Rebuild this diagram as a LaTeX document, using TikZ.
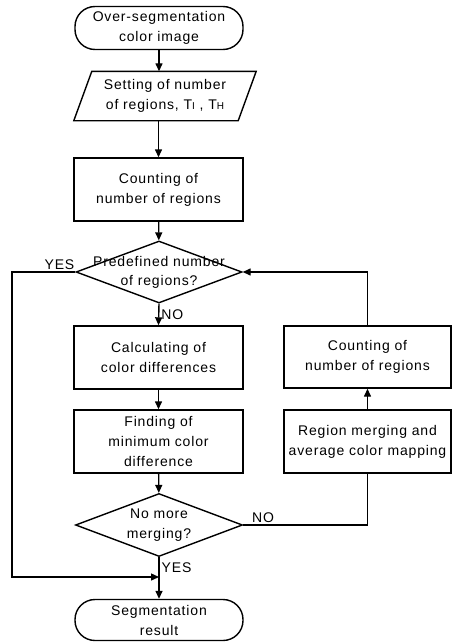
\documentclass[tikz,border=0pt]{standalone}
\usepackage{fontspec}
\setmainfont{Liberation Sans}[LetterSpace=6]
\usetikzlibrary{shapes.geometric,arrows.meta}
\begin{document}
\begin{tikzpicture}[x=1pt,y=-1pt]
\tikzset{
 base/.style={draw, line width=1.4pt, font=\fontsize{14}{20}\selectfont, align=center, inner sep=0pt},
 term/.style={base, rounded corners=20pt, minimum width=168pt, minimum height=43pt},
 proc/.style={base, minimum width=169pt, minimum height=63pt},
 decision/.style={base, diamond, minimum width=166pt, minimum height=62pt},
 conn/.style={line width=1.4pt, -{Triangle[length=8pt,width=7pt]}},
 plain/.style={line width=1.4pt},
 lab/.style={font=\fontsize{14}{16}\selectfont, inner sep=2pt}
}
\useasboundingbox (0,0) rectangle (452,642);
\node[term] (start) at (159,28) {Over-segmentation\\color image};
\node[base, draw=none, minimum width=163pt, minimum height=48pt] (set) at (165,96)
  {Setting of number\\of regions, T{\fontsize{10}{10}\selectfont I} , T{\fontsize{10}{10}\selectfont H}};
\draw[plain] ([xshift=9pt]set.north west) -- ([xshift=9pt]set.north east)
  -- ([xshift=-9pt]set.south east) -- ([xshift=-9pt]set.south west) -- cycle;
\node[proc] (cnt) at (158.5,189.5) {Counting of\\number of regions};
\node[decision, label={[font=\fontsize{14}{19}\selectfont, align=center]center:Predefined number\\of regions?}] (d1) at (159,272) {};
\node[proc] (calc) at (158.5,357.5) {Calculating of\\color differences};
\node[proc] (find) at (158.5,441.5) {Finding of\\minimum color\\difference};
\node[decision, minimum width=167pt, minimum height=63pt, label={[font=\fontsize{14}{20}\selectfont, align=center]center:No more\\merging?}] (d2) at (159,525) {};
\node[term, minimum height=41pt] (end) at (159,620) {Segmentation\\result};
\node[proc, minimum width=167pt, minimum height=62pt] (ra) at (367.5,357) {Counting of\\number of regions};
\node[proc, minimum width=167pt] (rb) at (367.5,441.5) {Region merging and\\average color mapping};

\coordinate (yl) at (12,272);
\coordinate (yb) at (12,577);

\draw[conn] (start.south) -- (start.south |- set.north);
\draw[conn] (cnt.north |- set.south) -- (cnt.north);
\draw[conn] (cnt) -- (d1);
\draw[conn] (d1.south) -- node[lab, right]{NO} (calc.north);
\draw[conn] (calc) -- (find);
\draw[conn] (find) -- (d2);
\draw[conn] (d2.south) -- node[lab, right, pos=0.25]{YES} (end.north);
\draw[conn] (d1.west) -- node[lab, above, pos=0.25]{YES} (yl) -- (yb) -- (yb -| end.north);
\draw[plain] (d2.east) -- node[lab, above, pos=0.16]{NO} (d2.east -| rb.south) -- (rb.south);
\draw[conn] (rb.north) -- (ra.south);
\draw[conn] (ra.north) -- (ra.north |- d1.east) -- (d1.east);
\end{tikzpicture}
\end{document}
